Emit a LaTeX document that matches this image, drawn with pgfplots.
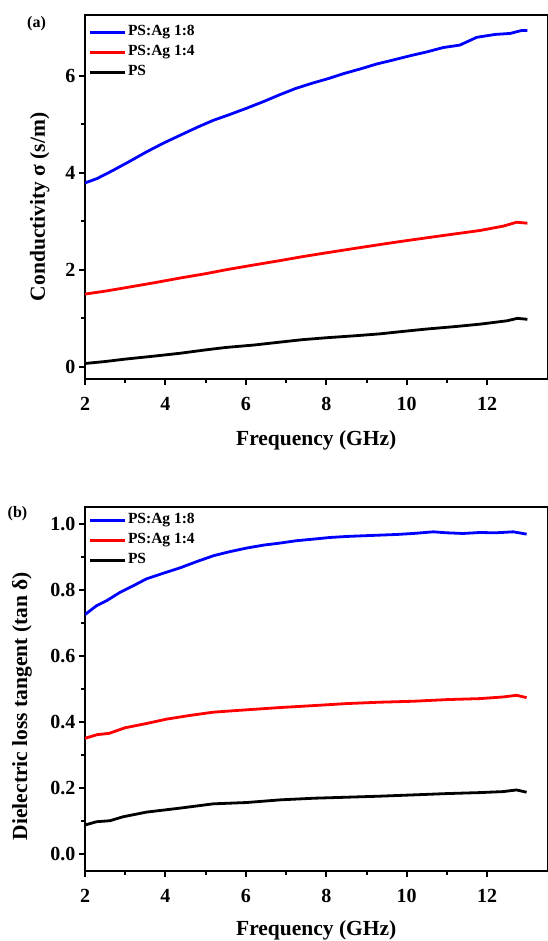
\documentclass[border=0pt]{standalone}
\usepackage{pgfplots}
\pgfplotsset{compat=1.18}
\usepackage{fontspec}
\setmainfont{Liberation Serif}

\pgfplotsset{
  panel/.style={
    scale only axis, width=462.5pt, height=364pt,
    xmin=2, xmax=13.5,
    xtick={2,4,...,12}, minor x tick num=1,
    axis line style={line width=2pt},
    tick align=outside, xtick pos=bottom, ytick pos=left,
    major tick length=6pt, minor tick length=4pt,
    every tick/.style={black, line width=2pt},
    tick label style={font=\fontsize{20}{22}\selectfont\bfseries},
    xticklabel style={yshift=-9pt},
    /pgf/number format/assume math mode=true,
    label style={font=\fontsize{21.5}{23}\selectfont\bfseries},
    xlabel={Frequency (GHz)},
    legend cell align=left,
    legend image code/.code={\draw[#1] (0pt,0pt) -- (35pt,0pt);},
    legend style={draw=none, fill=none, at={(axis description cs:0,1)},
      anchor=north west, font=\fontsize{15.5}{17}\selectfont\bfseries,
      nodes={inner sep=2pt, text height=10.5pt, text depth=3.5pt},
      row sep=2pt},
    every axis plot/.append style={line width=2.8pt, line join=round},
  }
}

\begin{document}
\begin{tikzpicture}
\useasboundingbox (0,0) rectangle (547pt,-941pt);

% (a) conductivity
\begin{axis}[panel, at={(85pt,-379pt)}, anchor=south west,
    ymin=-0.25, ymax=7.25, ytick={0,2,4,6}, minor y tick num=1,
    ylabel={Conductivity σ (s/m)},
    ylabel style={at={(axis description cs:-0.098,0.473)}, anchor=center},
    xlabel style={at={(axis description cs:0.5,0)}, anchor=base, yshift=-66pt},
    legend style={yshift=-6pt}]
\addplot[blue] coordinates {
  (2.0,3.79)(2.3,3.88)(2.7,4.05)(3.1,4.23)(3.53,4.43)(3.95,4.61)(4.36,4.77)
  (4.8,4.94)(5.19,5.08)(5.6,5.20)(6.02,5.33)(6.45,5.47)(6.85,5.61)(7.25,5.74)
  (7.67,5.85)(8.05,5.94)(8.42,6.04)(8.85,6.14)(9.25,6.24)(9.65,6.32)(10.08,6.41)
  (10.5,6.49)(10.91,6.58)(11.32,6.63)(11.74,6.79)(12.2,6.85)(12.57,6.87)
  (12.85,6.93)(13.0,6.93)};
\addplot[red] coordinates {
  (2.0,1.50)(2.5,1.56)(3.0,1.63)(3.7,1.73)(4.36,1.83)(5.0,1.92)(5.5,2.00)
  (6.2,2.10)(6.85,2.19)(7.4,2.27)(8.0,2.35)(8.7,2.44)(9.33,2.52)(9.9,2.59)
  (10.5,2.66)(11.2,2.74)(11.82,2.81)(12.4,2.90)(12.73,2.98)(13.0,2.96)};
\addplot[black] coordinates {
  (2.0,0.07)(2.5,0.11)(3.0,0.16)(3.7,0.22)(4.36,0.28)(5.0,0.35)(5.5,0.40)
  (6.2,0.45)(6.85,0.51)(7.4,0.56)(8.0,0.60)(8.7,0.64)(9.33,0.68)(9.9,0.73)
  (10.5,0.78)(11.2,0.83)(11.82,0.88)(12.5,0.95)(12.75,1.00)(13.0,0.98)};
\legend{PS:Ag 1:8, PS:Ag 1:4, PS}
\end{axis}

% (b) loss tangent
\begin{axis}[panel, at={(85pt,-871pt)}, anchor=south west,
    ymin=-0.05, ymax=1.05, ytick={0,0.2,...,1.0}, minor y tick num=1,
    yticklabel style={/pgf/number format/.cd, fixed, fixed zerofill, precision=1},
    ylabel={Dielectric loss tangent (tan δ)},
    ylabel style={at={(axis description cs:-0.136,0.453)}, anchor=center},
    xlabel style={at={(axis description cs:0.5,0)}, anchor=base, yshift=-64pt},
    legend style={yshift=-2pt}]
\addplot[blue] coordinates {
  (2.0,0.725)(2.29,0.752)(2.54,0.767)(2.87,0.792)(3.2,0.812)(3.53,0.833)
  (3.95,0.850)(4.36,0.866)(4.8,0.886)(5.2,0.903)(5.6,0.915)(6.02,0.926)
  (6.45,0.935)(6.85,0.941)(7.25,0.948)(7.68,0.953)(8.1,0.958)(8.51,0.961)
  (8.9,0.963)(9.33,0.965)(9.75,0.967)(10.16,0.970)(10.66,0.975)(11.0,0.972)
  (11.4,0.970)(11.82,0.973)(12.2,0.972)(12.65,0.975)(12.98,0.968)};
\addplot[red] coordinates {
  (2.0,0.351)(2.3,0.362)(2.6,0.366)(3.0,0.383)(3.5,0.395)(4.03,0.409)
  (4.6,0.420)(5.19,0.430)(6.0,0.437)(6.85,0.444)(7.7,0.450)(8.51,0.456)
  (9.3,0.460)(10.16,0.463)(11.0,0.468)(11.82,0.471)(12.4,0.476)(12.73,0.481)
  (12.98,0.474)};
\addplot[black] coordinates {
  (2.0,0.089)(2.29,0.099)(2.62,0.102)(2.95,0.114)(3.53,0.128)(4.36,0.140)
  (5.19,0.153)(6.02,0.157)(6.85,0.165)(7.7,0.170)(8.51,0.173)(9.3,0.176)
  (10.16,0.180)(11.0,0.184)(11.82,0.187)(12.4,0.190)(12.73,0.195)(12.98,0.188)};
\legend{PS:Ag 1:8, PS:Ag 1:4, PS}
\end{axis}

\node[font=\fontsize{16}{18}\selectfont\bfseries] at (36.5pt,-24pt) {(a)};
\node[font=\fontsize{16}{18}\selectfont\bfseries] at (17.5pt,-513.5pt) {(b)};
\end{tikzpicture}
\end{document}
